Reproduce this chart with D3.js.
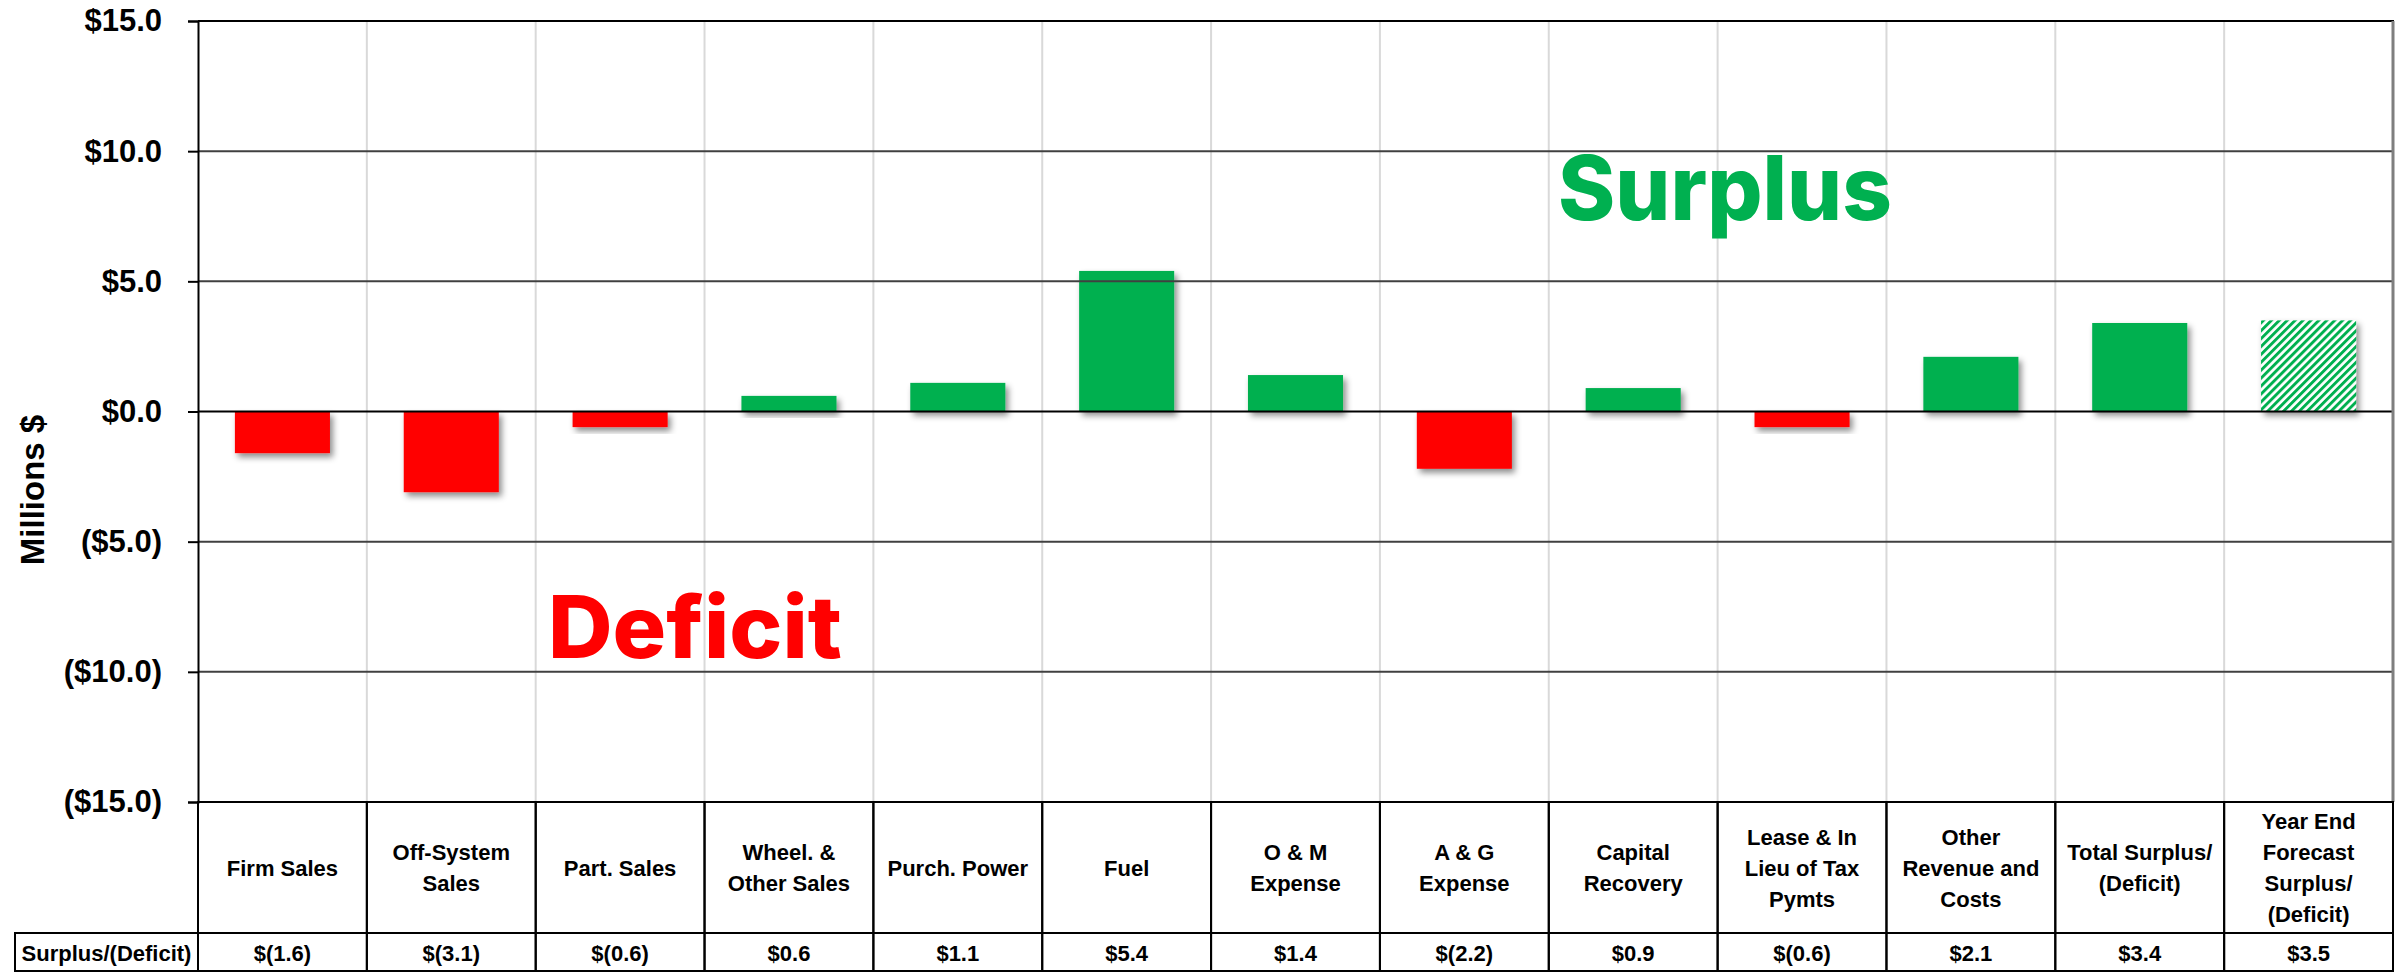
<!DOCTYPE html>
<meta charset="utf-8">
<script src="https://d3js.org/d3.v7.min.js"></script>
<style>
body { margin: 0; background: #fff; }
text { font-family: "Liberation Sans", Arial, sans-serif; font-weight: bold; fill: #000; }
.tick line { stroke: #000; stroke-width: 2; }
.big { font-family: Inter, "Open Sans", sans-serif; font-weight: 800; }
</style>
<body>
<div id="chart"></div>
<script>
// chart data
var categories = ["Firm Sales", "Off-System Sales", "Part. Sales", "Wheel. & Other Sales",
  "Purch. Power", "Fuel", "O & M Expense", "A & G Expense", "Capital Recovery",
  "Lease & In Lieu of Tax Pymts", "Other Revenue and Costs", "Total Surplus/ (Deficit)",
  "Year End Forecast Surplus/ (Deficit)"]
var labelLines = [["Firm Sales"], ["Off-System", "Sales"], ["Part. Sales"], ["Wheel. &", "Other Sales"],
  ["Purch. Power"], ["Fuel"], ["O & M", "Expense"], ["A & G", "Expense"], ["Capital", "Recovery"],
  ["Lease & In", "Lieu of Tax", "Pymts"], ["Other", "Revenue and", "Costs"], ["Total Surplus/", "(Deficit)"],
  ["Year End", "Forecast", "Surplus/", "(Deficit)"]]
var values = [-1.6, -3.1, -0.6, 0.6, 1.1, 5.4, 1.4, -2.2, 0.9, -0.6, 2.1, 3.4, 3.5]
var forecast = [false, false, false, false, false, false, false, false, false, false, false, false, true]
var yTicks = [-15, -10, -5, 0, 5, 10, 15]
var rowLabel = "Surplus/(Deficit)"

var W = 2405, H = 972
var plotL = 198, plotR = 2393, plotT = 21, plotB = 802
var headBottom = 933, tableBottom = 971, labelLeft = 15

var svg = d3.select("#chart").append("svg")
    .attr("width", W).attr("height", H)

var defs = svg.append("defs")
var shadow = defs.append("filter").attr("id", "shadow")
    .attr("x", "-20%").attr("y", "-20%").attr("width", "150%").attr("height", "160%")
shadow.append("feDropShadow")
    .attr("dx", 3).attr("dy", 4).attr("stdDeviation", 3)
    .attr("flood-color", "#000").attr("flood-opacity", 0.45)

var hatch = defs.append("pattern").attr("id", "hatch")
    .attr("patternUnits", "userSpaceOnUse")
    .attr("width", 5.6).attr("height", 5.6)
    .attr("patternTransform", "rotate(45)")
hatch.append("rect").attr("width", 5.6).attr("height", 5.6).attr("fill", "#fff")
hatch.append("rect").attr("width", 2.9).attr("height", 5.6).attr("fill", "#00B050")

var x = d3.scaleBand().domain(categories).range([plotL, plotR]).padding(0)
var y = d3.scaleLinear().domain([-15, 15]).range([plotB, plotT])
var bw = x.bandwidth() * 0.563

function tickFmt(v) {
  return v < 0 ? "($" + Math.abs(v).toFixed(1) + ")" : "$" + v.toFixed(1)
}
function valFmt(v) {
  return v < 0 ? "$(" + Math.abs(v).toFixed(1) + ")" : "$" + v.toFixed(1)
}

// vertical light grid
svg.append("g").selectAll("line")
  .data(categories.slice(1))
  .enter().append("line")
    .attr("x1", function(d) { return x(d) }).attr("x2", function(d) { return x(d) })
    .attr("y1", plotT).attr("y2", plotB)
    .attr("stroke", "#d9d9d9").attr("stroke-width", 2)

// bars
svg.append("g").selectAll("rect")
  .data(values)
  .enter().append("rect")
    .attr("x", function(d, i) { return x(categories[i]) + (x.bandwidth() - bw) / 2 })
    .attr("width", bw)
    .attr("y", function(d) { return y(Math.max(0, d)) })
    .attr("height", function(d) { return Math.abs(y(d) - y(0)) })
    .attr("fill", function(d, i) { return forecast[i] ? "url(#hatch)" : (d < 0 ? "#FF0000" : "#00B050") })
    .attr("filter", "url(#shadow)")

// horizontal grid
svg.append("g").selectAll("line")
  .data(yTicks)
  .enter().append("line")
    .attr("x1", plotL).attr("x2", plotR + 1)
    .attr("y1", function(d) { return y(d) }).attr("y2", function(d) { return y(d) })
    .attr("stroke", function(d) { return d == 0 || d == 15 ? "#000" : "#404040" })
    .attr("stroke-width", 2)

// right border
svg.append("line")
  .attr("x1", plotR).attr("x2", plotR).attr("y1", plotT).attr("y2", plotB)
  .attr("stroke", "#7f7f7f").attr("stroke-width", 3)

// y axis
var yAxis = d3.axisLeft(y).tickValues(yTicks).tickSize(10).tickPadding(26).tickFormat(tickFmt)
var ya = svg.append("g").attr("transform", "translate(" + plotL + ",0)").call(yAxis)
ya.select(".domain").attr("stroke", "#000").attr("stroke-width", 2)
ya.selectAll("text").style("font-size", "31px").attr("fill", "#000")

svg.append("text")
  .attr("transform", "translate(44,490) rotate(-90)")
  .attr("text-anchor", "middle")
  .style("font-size", "33px")
  .text("Millions $")

// Surplus / Deficit labels
svg.append("text").attr("class", "big")
  .attr("x", 1558).attr("y", 220)
  .attr("textLength", 334).attr("lengthAdjust", "spacingAndGlyphs")
  .style("font-size", "89px").style("fill", "#00B050")
  .text("Surplus")
svg.append("text").attr("class", "big")
  .attr("x", 548).attr("y", 658)
  .attr("textLength", 294).attr("lengthAdjust", "spacingAndGlyphs")
  .style("font-size", "87px").style("fill", "#FF0000")
  .text("Deficit")

// data table
var table = svg.append("g")
table.selectAll("rect.head")
  .data(categories)
  .enter().append("rect")
    .attr("x", function(d) { return x(d) }).attr("y", plotB)
    .attr("width", x.bandwidth()).attr("height", headBottom - plotB)
    .attr("fill", "none").attr("stroke", "#000").attr("stroke-width", 2)
table.selectAll("rect.val")
  .data(categories)
  .enter().append("rect")
    .attr("x", function(d) { return x(d) }).attr("y", headBottom)
    .attr("width", x.bandwidth()).attr("height", tableBottom - headBottom)
    .attr("fill", "none").attr("stroke", "#000").attr("stroke-width", 2)
table.append("rect")
  .attr("x", labelLeft).attr("y", headBottom)
  .attr("width", plotL - labelLeft).attr("height", tableBottom - headBottom)
  .attr("fill", "none").attr("stroke", "#000").attr("stroke-width", 2)
table.append("text")
  .attr("x", (labelLeft + plotL) / 2).attr("y", 961)
  .attr("text-anchor", "middle").style("font-size", "22px")
  .text(rowLabel)

var lh = 31
table.selectAll("text.cat")
  .data(categories)
  .enter().append("text")
    .attr("class", "cat")
    .attr("text-anchor", "middle")
    .style("font-size", "22px")
    .each(function(d, i) {
      var lines = labelLines[i]
      var y0 = (plotB + headBottom) / 2 + 8 - (lines.length - 1) * lh / 2
      d3.select(this).selectAll("tspan")
        .data(lines)
        .enter().append("tspan")
          .attr("x", x(d) + x.bandwidth() / 2)
          .attr("y", function(l, j) { return y0 + j * lh })
          .text(function(l) { return l })
    })

table.selectAll("text.val")
  .data(values)
  .enter().append("text")
    .attr("class", "val")
    .attr("x", function(d, i) { return x(categories[i]) + x.bandwidth() / 2 })
    .attr("y", 961)
    .attr("text-anchor", "middle")
    .style("font-size", "22px")
    .text(valFmt)
</script>
</body>
